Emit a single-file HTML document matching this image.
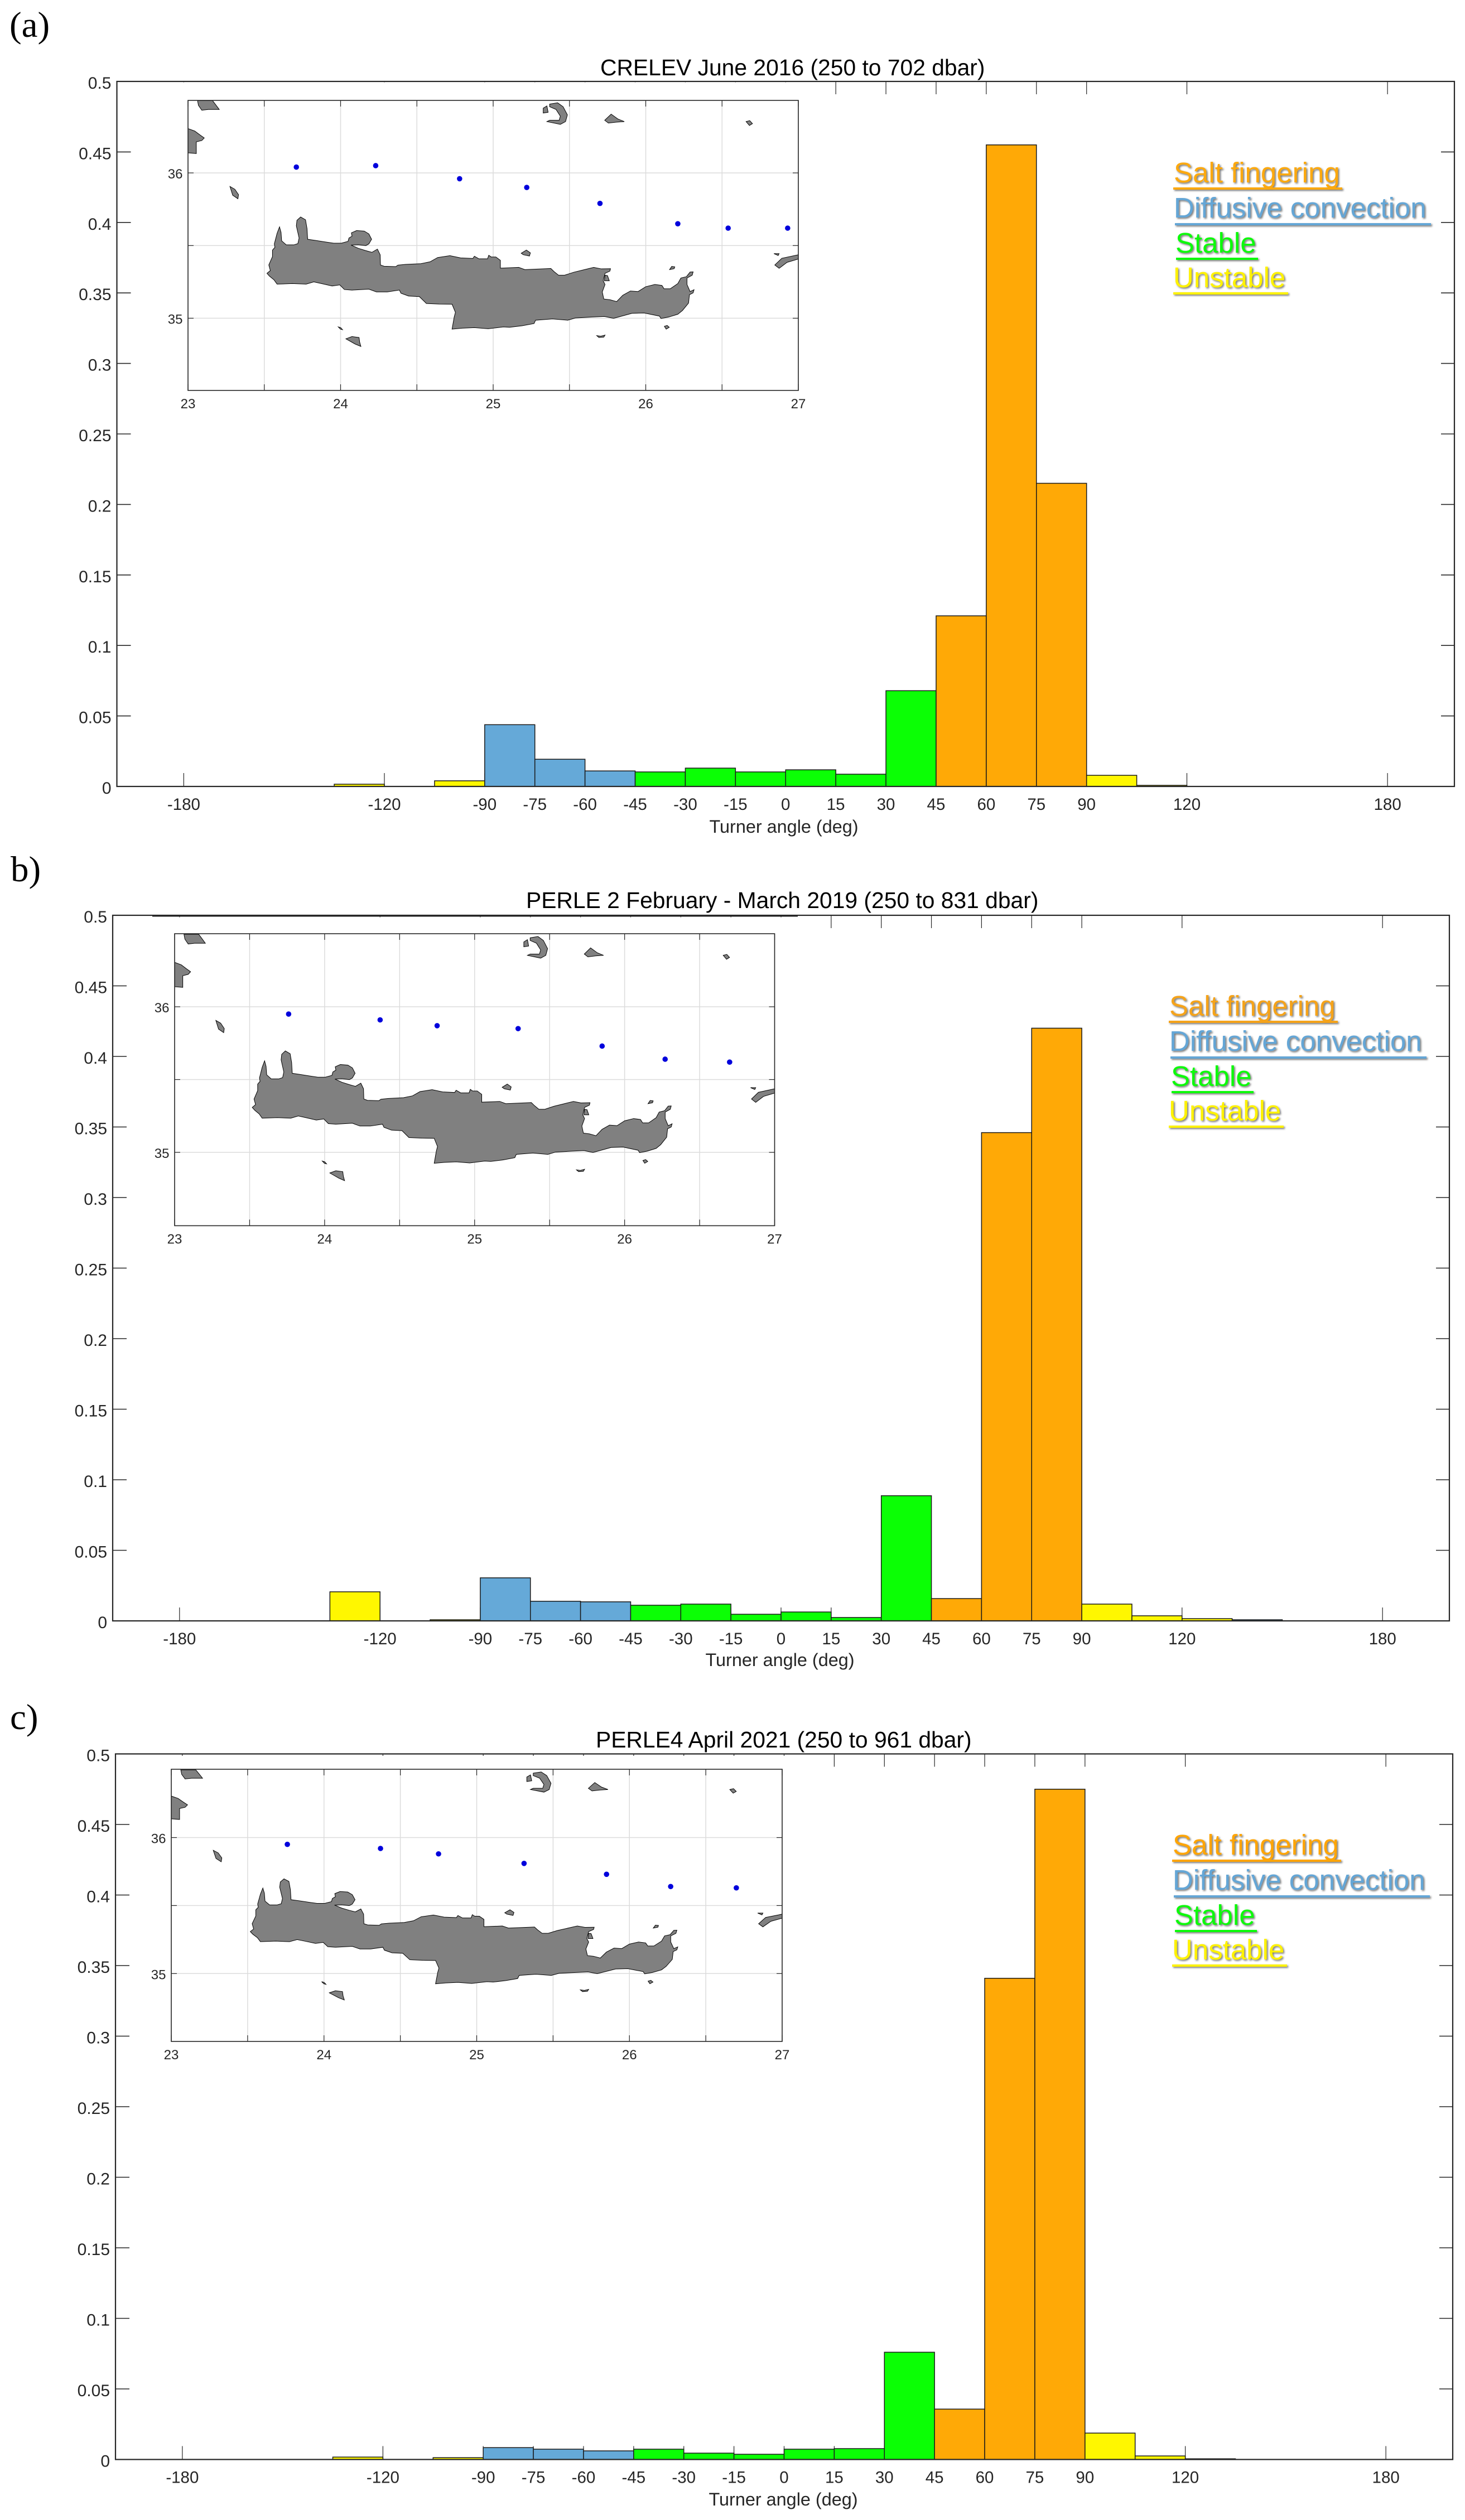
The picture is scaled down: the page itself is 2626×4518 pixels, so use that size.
<!DOCTYPE html>
<html lang="en">
<head>
<meta charset="utf-8">
<title>Turner angle histograms</title>
<style>
  html, body { margin: 0; padding: 0; background: #fff; }
  svg { display: block; font-family: "Liberation Sans", Arial, sans-serif; }
  .panel-letter { font-family: "Liberation Serif", "Times New Roman", serif; font-size: 65px; fill: #000; }
  .title { font-size: 40.8px; fill: #000; text-anchor: start; }
  .xlabel { font-size: 32.4px; fill: #262626; text-anchor: middle; }
  .legend { filter: drop-shadow(2px 2px 1.5px rgba(0,0,0,.55)); }
  .legend text { font-size: 51px; }
</style>
</head>
<body>
<svg id="figure" xmlns="http://www.w3.org/2000/svg" width="2626" height="4518" viewBox="0 0 2626 4518">
  <rect x="0" y="0" width="2626" height="4518" fill="#fff"/>
  <defs>
    <g id="coastline" fill="#808080" stroke="#000" stroke-width="1">
      <path vector-effect="non-scaling-stroke" d="M131,232 L140,175 148,140 153,170 155,215 170,237 195,237 208,230 212,200 203,135 205,105 217,87 233,102 238,150 240,207 265,213 300,222 325,228 350,228 372,218 375,200 385,190 383,172 400,160 425,163 440,178 449,207 440,232 430,241 405,236 382,238 405,255 430,268 450,277 468,260 477,290 478,345 490,352 528,354 535,346 560,342 610,338 640,328 665,305 705,295 740,307 780,310 785,298 800,312 828,312 832,293 840,302 855,302 870,320 870,362 930,358 950,370 1035,364 1045,380 1060,400 1080,400 1110,384 1145,370 1175,358 1200,366 1230,365 1228,378 1212,390 1206,430 1212,450 1203,490 1208,528 1228,532 1250,542 1270,508 1295,485 1320,488 1345,462 1375,450 1398,455 1405,473 1425,473 1450,445 1460,415 1478,408 1490,383 1500,382 1497,400 1480,415 1480,450 1490,488 1503,478 1500,495 1488,505 1485,550 1465,590 1450,610 1420,625 1395,633 1390,620 1340,603 1300,605 1240,632 1210,622 1170,625 1115,630 1090,642 1040,635 985,642 980,660 940,672 900,680 880,678 830,688 785,682 745,685 712,690 719,625 723,600 712,556 670,555 628,552 605,515 570,512 545,497 540,480 500,490 465,490 440,475 385,480 360,477 345,452 320,458 285,445 260,436 235,448 190,445 140,448 130,425 115,405 107,390 118,375 113,345 125,300 125,265 133,250 Z"/>
      <path vector-effect="non-scaling-stroke" d="M938,282 L955,265 968,280 965,297 945,290 Z"/>
      <path vector-effect="non-scaling-stroke" d="M1212,400 L1220,402 1226,430 1210,430 Z"/>
      <path vector-effect="non-scaling-stroke" d="M1423,370 L1430,353 1440,355 1438,365 Z"/>
      <path vector-effect="non-scaling-stroke" d="M1406,675 L1415,670 1422,680 1412,690 Z"/>
      <path vector-effect="non-scaling-stroke" d="M1185,725 L1198,728 1212,722 1208,733 1192,735 Z"/>
      <path vector-effect="non-scaling-stroke" d="M340,678 L348,682 354,693 347,690 Z"/>
      <path vector-effect="non-scaling-stroke" d="M365,742 L385,730 408,735 410,760 414,783 395,770 Z"/>
      <path vector-effect="non-scaling-stroke" d="M-120,-539 L-71,-539 -59,-513 -49,-491 -85,-491 -106,-487 -117,-513 Z"/>
      <path vector-effect="non-scaling-stroke" d="M-152,-389 L-129,-375 -111,-353 -98,-338 -106,-324 -124,-317 -124,-254 -152,-258 Z"/>
      <path vector-effect="non-scaling-stroke" d="M-14,-77 L2,-62 14,-33 12,-11 -5,-30 Z"/>
      <path vector-effect="non-scaling-stroke" d="M1031,-520 L1057,-527 1075,-506 1089,-462 1083,-426 1066,-411 1022,-426 1031,-433 1062,-433 1066,-455 1052,-491 1031,-506 Z"/>
      <path vector-effect="non-scaling-stroke" d="M1010,-498 L1022,-510 1026,-476 1010,-472 Z"/>
      <path vector-effect="non-scaling-stroke" d="M1211,-433 L1232,-466 1254,-440 1275,-426 1249,-423 1223,-418 Z"/>
      <path vector-effect="non-scaling-stroke" d="M1673,-426 L1685,-431 1694,-415 1684,-405 Z"/>
      <path vector-effect="non-scaling-stroke" d="M1767,345 L1790,309 1844,290 1844,313 1807,331 1781,363 Z"/>
      <path vector-effect="non-scaling-stroke" d="M1764,284 L1781,284 1778,294 Z"/>
    </g>
  </defs>

  <!-- Panel (a) -->
  <g id="panel-a"></g>
  <text class="panel-letter" x="17" y="66">(a)</text>
  <text class="title" x="1076" y="135">CRELEV June 2016 (250 to 702 dbar)</text>
  <text class="xlabel" x="1405" y="1493">Turner angle (deg)</text>
  <g class="legend">
    <text x="2104" y="327" fill="#fca90f">Salt fingering</text>
    <rect x="2103" y="336" width="303" height="4" fill="#fca90f"/>
    <text x="2104" y="390" fill="#64a6d6">Diffusive convection</text>
    <rect x="2106" y="400" width="459" height="4" fill="#64a6d6"/>
    <text x="2107" y="453" fill="#0dfa0b">Stable</text>
    <rect x="2108" y="462" width="147" height="4" fill="#0dfa0b"/>
    <text x="2103" y="515" fill="#fff200">Unstable</text>
    <rect x="2103" y="524" width="206" height="4" fill="#fff200"/>
  </g>

  <!-- Panel (b) -->
  <g id="panel-b"></g>
  <text class="panel-letter" x="19" y="1580">b)</text>
  <text class="title" x="943" y="1628">PERLE 2 February - March 2019 (250 to 831 dbar)</text>
  <text class="xlabel" x="1398" y="2987">Turner angle (deg)</text>
  <g class="legend" transform="translate(-8,1494)">
    <text x="2104" y="327" fill="#f5a31a">Salt fingering</text>
    <rect x="2103" y="336" width="303" height="4" fill="#f5a31a"/>
    <text x="2104" y="390" fill="#64a6d6">Diffusive convection</text>
    <rect x="2106" y="400" width="459" height="4" fill="#64a6d6"/>
    <text x="2107" y="453" fill="#0dfa0b">Stable</text>
    <rect x="2108" y="462" width="147" height="4" fill="#0dfa0b"/>
    <text x="2103" y="515" fill="#fff200">Unstable</text>
    <rect x="2103" y="524" width="206" height="4" fill="#fff200"/>
  </g>

  <!-- Panel (c) -->
  <g id="panel-c"></g>
  <text class="panel-letter" x="18" y="3100">c)</text>
  <text class="title" x="1068" y="3133">PERLE4 April 2021 (250 to 961 dbar)</text>
  <text class="xlabel" x="1404" y="4492">Turner angle (deg)</text>
  <g class="legend" transform="translate(-2,2998)">
    <text x="2104" y="327" fill="#ffa506">Salt fingering</text>
    <rect x="2103" y="336" width="303" height="4" fill="#ffa506"/>
    <text x="2104" y="390" fill="#64a6d6">Diffusive convection</text>
    <rect x="2106" y="400" width="459" height="4" fill="#64a6d6"/>
    <text x="2107" y="453" fill="#0dfa0b">Stable</text>
    <rect x="2108" y="462" width="147" height="4" fill="#0dfa0b"/>
    <text x="2103" y="515" fill="#fff200">Unstable</text>
    <rect x="2103" y="524" width="206" height="4" fill="#fff200"/>
  </g>

  <rect x="273" y="1640" width="1157" height="3.5" fill="#262626"/>
</svg>

<script>
// ---- data -------------------------------------------------------------
const binStarts = [-135, -120, -105, -90, -75, -60, -45, -30, -15, 0, 15, 30, 45, 60, 75, 90, 105, 120, 135];
const binRegimes = ['unstable', 'unstable', 'unstable', 'diffusive', 'diffusive', 'diffusive', 'stable', 'stable', 'stable', 'stable', 'stable', 'stable', 'salt', 'salt', 'salt', 'unstable', 'unstable', 'unstable', 'diffusive'];
const valuesA = [0.0016, 0, 0.004, 0.0438, 0.0193, 0.011, 0.0103, 0.013, 0.0103, 0.0118, 0.0087, 0.0679, 0.121, 0.455, 0.215, 0.0079, 0.0008, 0, 0];
const valuesB = [0.0206, 0, 0.0008, 0.0305, 0.0139, 0.0135, 0.0111, 0.0119, 0.0047, 0.0063, 0.0024, 0.0887, 0.0158, 0.346, 0.42, 0.0119, 0.0036, 0.0016, 0.0008];
const valuesC = [0.0017, 0, 0.0013, 0.0084, 0.0073, 0.0061, 0.0073, 0.0045, 0.0037, 0.0073, 0.0077, 0.076, 0.0357, 0.341, 0.475, 0.0187, 0.0025, 0.0005, 0];
const xTickLabels = [-180, -120, -90, -75, -60, -45, -30, -15, 0, 15, 30, 45, 60, 75, 90, 120, 180];
const yTickLabels = [0, 0.05, 0.1, 0.15, 0.2, 0.25, 0.3, 0.35, 0.4, 0.45, 0.5];
const mapLonGrid = [23, 23.5, 24, 24.5, 25, 25.5, 26, 26.5, 27];
const mapLatGrid = [35, 35.5, 36];
const mapLonLabels = [23, 24, 25, 26, 27];
const mapLatLabels = [35, 36];
const stationLonA = [23.71, 24.23, 24.78, 25.22, 25.70, 26.21, 26.54, 26.93];
const stationLatA = [36.04, 36.05, 35.96, 35.90, 35.79, 35.65, 35.62, 35.62];
const stationLonB = [23.76, 24.37, 24.75, 25.29, 25.85, 26.27, 26.70];
const stationLatB = [35.95, 35.91, 35.87, 35.85, 35.73, 35.64, 35.62];
const stationLonC = [23.76, 24.37, 24.75, 25.31, 25.85, 26.27, 26.70];
const stationLatC = [35.95, 35.92, 35.88, 35.81, 35.73, 35.64, 35.63];

// ---- styling and layout -----------------------------------------------
const regimeColors = { salt: '#ffa906', diffusive: '#65a9d8', stable: '#0bff05', unstable: '#fff700' };
const INK = '#262626';
const SVG_NS = 'http://www.w3.org/2000/svg';

function make(tag, attrs, parent) {
  const node = document.createElementNS(SVG_NS, tag);
  for (const key in attrs) node.setAttribute(key, attrs[key]);
  parent.appendChild(node);
  return node;
}

function drawPanel(cfg) {
  const root = document.getElementById(cfg.id);
  const xPos = deg => cfg.left + (deg + 200) / 400 * (cfg.right - cfg.left);
  const yPos = val => cfg.bottom - val / 0.5 * (cfg.bottom - cfg.top);

  // x ticks (bottom and top)
  xTickLabels.forEach(t => {
    const px = xPos(t);
    const low = make('line', { x1: px, x2: px, y1: cfg.bottom, y2: cfg.bottom - 24, stroke: INK, 'stroke-width': 1.2 }, root);
    
    
    const high = make('line', { x1: px, x2: px, y1: cfg.top, y2: cfg.top + 23, stroke: INK, 'stroke-width': 1.2 }, root);
    
    
    const label = make('text', { x: px, y: cfg.bottom + 42, 'text-anchor': 'middle', 'font-size': 29.5, fill: INK }, root);
    label.textContent = String(t);
    
    
  });

  // y ticks (left and right)
  yTickLabels.forEach(t => {
    const py = yPos(t);
    const leftTick = make('line', { x1: cfg.left, x2: cfg.left + 25, y1: py, y2: py, stroke: INK, 'stroke-width': 1.6 }, root);
    
    
    const rightTick = make('line', { x1: cfg.right, x2: cfg.right - 24, y1: py, y2: py, stroke: INK, 'stroke-width': 1.6 }, root);
    
    
    const label = make('text', { x: cfg.left - 10, y: py + 13, 'text-anchor': 'end', 'font-size': 30, fill: INK }, root);
    label.textContent = String(t);
    
    
  });

  // histogram bars
  cfg.values.forEach((v, i) => {
    if (!(v > 0)) return;
    const x0 = xPos(binStarts[i]);
    const x1 = xPos(binStarts[i] + 15);
    const y0 = yPos(v);
    const bar = make('rect', { x: x0, y: y0, width: x1 - x0, height: cfg.bottom - y0, fill: regimeColors[binRegimes[i]], stroke: '#1a1a1a', 'stroke-width': 1.5 }, root);
    
    
  });

  // axes box
  const box = make('rect', { x: cfg.left, y: cfg.top, width: cfg.right - cfg.left, height: cfg.bottom - cfg.top, fill: 'none', stroke: INK, 'stroke-width': 2.2 }, root);
  
  

  // pasted map picture (white backing hides the axes ticks behind it)
  const backing = make('rect', { x: cfg.patchLeft, y: cfg.top + cfg.patchInset, width: cfg.patchRight - cfg.patchLeft, height: cfg.mapBottom + 45 - cfg.top - cfg.patchInset, fill: '#fff' }, root);
  
  

  const mapX = lon => cfg.mapLeft + (lon - 23) / 4 * (cfg.mapRight - cfg.mapLeft);
  const mapY = lat => cfg.lat35 + (35 - lat) * (cfg.lat35 - cfg.lat36);

  const inset = make('g', {}, root);
  
  

  mapLonGrid.forEach(lon => {
    const g = make('line', { x1: mapX(lon), x2: mapX(lon), y1: cfg.mapTop, y2: cfg.mapBottom, stroke: '#dcdcdc', 'stroke-width': 1.5 }, inset);
    
    
    const tickLow = make('line', { x1: mapX(lon), x2: mapX(lon), y1: cfg.mapBottom, y2: cfg.mapBottom - 11, stroke: INK, 'stroke-width': 1.2 }, inset);
    
    
    const tickHigh = make('line', { x1: mapX(lon), x2: mapX(lon), y1: cfg.mapTop, y2: cfg.mapTop + 11, stroke: INK, 'stroke-width': 1.2 }, inset);
    
    
  });
  mapLatGrid.forEach(lat => {
    const g = make('line', { x1: cfg.mapLeft, x2: cfg.mapRight, y1: mapY(lat), y2: mapY(lat), stroke: '#dcdcdc', 'stroke-width': 1.5 }, inset);
    
    
    const tickLeft = make('line', { x1: cfg.mapLeft, x2: cfg.mapLeft + 10, y1: mapY(lat), y2: mapY(lat), stroke: INK, 'stroke-width': 1.2 }, inset);
    
    
    const tickRight = make('line', { x1: cfg.mapRight, x2: cfg.mapRight - 10, y1: mapY(lat), y2: mapY(lat), stroke: INK, 'stroke-width': 1.2 }, inset);
    
    
  });

  // coastline: trace units map to lon/lat through fixed origin and step
  const lonOrigin = 23.303, lonStep = 0.002005, latOrigin = 35.808, latStep = 0.00128;
  const clipId = cfg.id + '-map-clip';
  const clip = make('clipPath', { id: clipId }, inset);
  make('rect', { x: cfg.mapLeft, y: cfg.mapTop, width: cfg.mapRight - cfg.mapLeft, height: cfg.mapBottom - cfg.mapTop }, clip);
  const clipped = make('g', { 'clip-path': 'url(#' + clipId + ')' }, inset);
  
  
  const tx = mapX(lonOrigin), ty = mapY(latOrigin);
  const sx = mapX(lonOrigin + lonStep) - tx, sy = mapY(latOrigin - latStep) - ty;
  const land = make('use', { href: '#coastline', transform: 'translate(' + tx + ',' + ty + ') scale(' + sx + ',' + sy + ')' }, clipped);
  
  

  const frame = make('rect', { x: cfg.mapLeft, y: cfg.mapTop, width: cfg.mapRight - cfg.mapLeft, height: cfg.mapBottom - cfg.mapTop, fill: 'none', stroke: INK, 'stroke-width': 1.6 }, inset);
  
  

  mapLonLabels.forEach(lon => {
    const label = make('text', { x: mapX(lon), y: cfg.mapBottom + 32, 'text-anchor': 'middle', 'font-size': 24, fill: INK }, inset);
    label.textContent = String(lon);
    
    
  });
  mapLatLabels.forEach(lat => {
    const label = make('text', { x: cfg.mapLeft - 9.5, y: mapY(lat) + 10, 'text-anchor': 'end', 'font-size': 24, fill: INK }, inset);
    label.textContent = String(lat);
    
    
  });

  cfg.stationLon.forEach((lon, i) => {
    const dot = make('circle', { cx: mapX(lon), cy: mapY(cfg.stationLat[i]), r: 4.8, fill: '#0000dc' }, inset);
    
    
  });
}

drawPanel({
  id: 'panel-a', values: valuesA, stationLon: stationLonA, stationLat: stationLatA,
  left: 209.5, right: 2607, top: 146, bottom: 1410,
  patchLeft: 237, patchRight: 1470, patchInset: 1.5,
  mapLeft: 337, mapRight: 1431, mapTop: 180, mapBottom: 700, lat36: 310, lat35: 570.5
});
drawPanel({
  id: 'panel-b', values: valuesB, stationLon: stationLonB, stationLat: stationLatB,
  left: 202, right: 2598, top: 1641, bottom: 2906,
  patchLeft: 228, patchRight: 1440, patchInset: 3.5,
  mapLeft: 313, mapRight: 1388.5, mapTop: 1674, mapBottom: 2197.5, lat36: 1805, lat35: 2066
});
drawPanel({
  id: 'panel-c', values: valuesC, stationLon: stationLonC, stationLat: stationLatC,
  left: 207, right: 2604, top: 3144.5, bottom: 4409.5,
  patchLeft: 233, patchRight: 1450, patchInset: 3.5,
  mapLeft: 307, mapRight: 1402, mapTop: 3172, mapBottom: 3660, lat36: 3294.5, lat35: 3538.3
});
</script>
</body>
</html>
